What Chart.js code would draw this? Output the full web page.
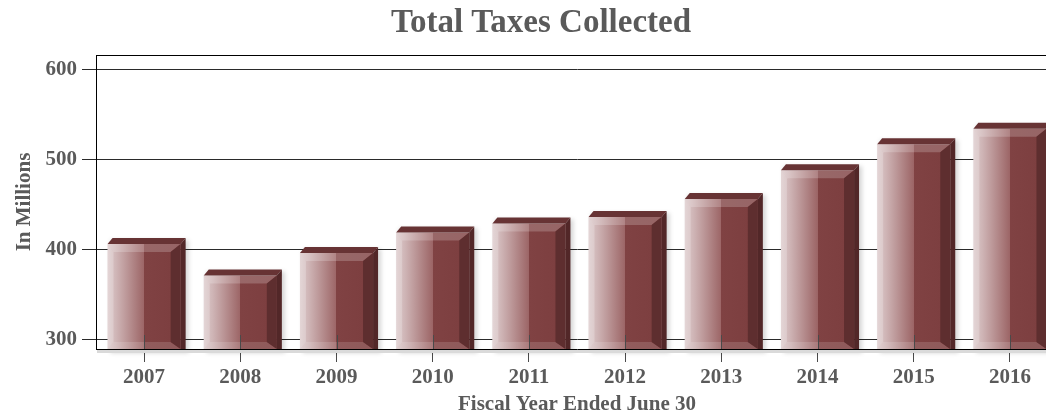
<!DOCTYPE html>
<html>
<head>
<meta charset="utf-8">
<title>Total Taxes Collected</title>
<style>
    html, body { margin: 0; padding: 0; background: #fff; overflow: hidden; }
    #wrap { width: 1070px; height: 417px; }
</style>
</head>
<body>
<div id="wrap">
    <canvas id="taxChart" width="1070" height="417"></canvas>
</div>

<script src="https://cdn.jsdelivr.net/npm/chart.js"></script>
<script>
    // data (in millions)
    const years = ['2007', '2008', '2009', '2010', '2011', '2012', '2013', '2014', '2015', '2016'];
    const taxes = [406, 371, 396, 419, 429, 436, 456, 488, 517, 534];
    const yTicks = [300, 400, 500, 600];
    const yRange = [289.5, 616];

    const chartTitle = 'Total Taxes Collected';
    const xTitle = 'Fiscal Year Ended June 30';
    const yTitle = 'In Millions';

    const FONT = "'Liberation Serif', 'Times New Roman', serif";
    const TEXT = '#5a5a5a';
    const BAR_PCT = 0.76;
    const DX = 5, DY = 6;   // 3d depth

    // front face of every bar: light pink on the left, flat red on the right
    function frontGradient(c) {
        const chart = c.chart;
        const xs = chart.scales.x;
        if (!chart.chartArea || !xs) return '#7f4142';
        const cx = xs.getPixelForValue(c.dataIndex);
        const w = xs.width / years.length * BAR_PCT;
        const g = chart.ctx.createLinearGradient(cx - w / 2, 0, cx + w / 2, 0);
        g.addColorStop(0, '#dccacb');
        g.addColorStop(0.12, '#cfb5b6');
        g.addColorStop(0.5, '#9c6566');
        g.addColorStop(0.5, '#804243');
        g.addColorStop(1, '#7c3e3f');
        return g;
    }

    function poly(ctx, pts, fill) {
        ctx.beginPath();
        ctx.moveTo(pts[0][0], pts[0][1]);
        for (let i = 1; i < pts.length; i++) ctx.lineTo(pts[i][0], pts[i][1]);
        ctx.closePath();
        ctx.fillStyle = fill;
        ctx.fill();
    }

    function barBox(el, area) {
        const { x, y, base, width } = el.getProps(['x', 'y', 'base', 'width'], true);
        return { L: x - width / 2, R: x + width / 2, T: y, B: Math.min(base, area.bottom) };
    }

    const bars3d = {
        id: 'bars3d',
        beforeDatasetsDraw(chart) {
            const ctx = chart.ctx;
            const area = chart.chartArea;
            const meta = chart.getDatasetMeta(0);
            ctx.save();
            // soft shadow behind the bars
            ctx.filter = 'blur(2px)';
            meta.data.forEach(el => {
                const { L, R, T, B } = barBox(el, area);
                ctx.fillStyle = 'rgba(0,0,0,0.16)';
                ctx.fillRect(L + 3, T - DY + 2, R - L + DX, B - T + DY + 2);
            });
            ctx.filter = 'none';
            // shadow under the bottom axis
            ctx.fillStyle = '#dadada';
            ctx.fillRect(area.left + 1, area.bottom + 1, area.right - area.left, 3);
            ctx.restore();
        },
        afterDatasetsDraw(chart) {
            const ctx = chart.ctx;
            const area = chart.chartArea;
            const meta = chart.getDatasetMeta(0);
            ctx.save();
            meta.data.forEach(el => {
                const { L, R, T, B } = barBox(el, area);
                // top and side faces
                poly(ctx, [[L, T], [L + DX, T - DY], [R + DX, T - DY], [R, T]], '#673334');
                poly(ctx, [[R, T], [R + DX, T - DY], [R + DX, B], [R, B]], '#522728');
                // bevels on the front
                const bt = 8, bl = 6, br = 10, bb = 7;
                poly(ctx, [[L, T], [R, T], [R - br, T + bt], [L + bl, T + bt]], 'rgba(255,255,255,0.2)');
                poly(ctx, [[L, T], [L + bl, T + bt], [L + bl, B - bb], [L, B]], 'rgba(255,255,255,0.22)');
                poly(ctx, [[L, B], [L + bl, B - bb], [R - br, B - bb], [R, B]], 'rgba(255,255,255,0.14)');
                poly(ctx, [[R, T], [R, B], [R - br, B - bb], [R - br, T + bt]], '#5e2e2f');
            });
            // x tick marks crossing the axis into the plot
            const xs = chart.scales.x;
            ctx.strokeStyle = '#4a4a4a';
            ctx.lineWidth = 1;
            years.forEach((_, i) => {
                const px = Math.round(xs.getPixelForValue(i)) + 0.5;
                ctx.beginPath();
                ctx.moveTo(px, area.bottom - 14);
                ctx.lineTo(px, area.bottom);
                ctx.stroke();
            });
            ctx.restore();
        },
        afterDraw(chart) {
            const ctx = chart.ctx;
            const area = chart.chartArea;
            ctx.save();
            // frame line on top of the plot
            ctx.strokeStyle = '#000';
            ctx.lineWidth = 1;
            ctx.beginPath();
            ctx.moveTo(area.left, Math.round(area.top) + 0.5);
            ctx.lineTo(chart.width, Math.round(area.top) + 0.5);
            ctx.stroke();
            // chart title
            ctx.fillStyle = TEXT;
            ctx.font = 'bold 33px ' + FONT;
            ctx.textAlign = 'center';
            ctx.textBaseline = 'alphabetic';
            ctx.fillText(chartTitle, 541, 32);
            ctx.restore();
        }
    };

    new Chart(document.getElementById('taxChart'), {
        type: 'bar',
        data: {
            labels: years,
            datasets: [{
                label: 'Total Taxes',
                data: taxes,
                backgroundColor: frontGradient,
                borderWidth: 0,
                categoryPercentage: 1,
                barPercentage: BAR_PCT
            }]
        },
        options: {
            responsive: false,
            animation: false,
            devicePixelRatio: 1,
            layout: { padding: { top: 55, right: 12, bottom: 0, left: 0 } },
            plugins: {
                legend: { display: false },
                tooltip: { enabled: false },
                title: { display: false }
            },
            scales: {
                x: {
                    afterFit: s => { s.height = 68; },
                    grid: { offset: false, drawOnChartArea: false, drawTicks: true, tickLength: 13, color: '#4a4a4a' },
                    border: { display: true, color: '#000', width: 1 },
                    ticks: {
                        color: TEXT, padding: 3, maxRotation: 0, autoSkip: false,
                        font: { family: FONT, size: 21, weight: 'bold' }
                    },
                    title: {
                        display: true, text: xTitle, color: TEXT,
                        font: { family: FONT, size: 21, weight: 'bold', lineHeight: 1 },
                        padding: { top: 0, bottom: 2 }
                    }
                },
                y: {
                    min: yRange[0],
                    max: yRange[1],
                    afterFit: s => { s.width = 96; },
                    afterBuildTicks: s => { s.ticks = yTicks.map(v => ({ value: v })); },
                    grid: { color: '#2a2a2a', lineWidth: 1, tickLength: 14 },
                    border: { display: true, color: '#000', width: 1 },
                    ticks: {
                        color: TEXT, padding: 5,
                        font: { family: FONT, size: 21, weight: 'bold' }
                    },
                    title: {
                        display: true, text: yTitle, color: TEXT,
                        font: { family: FONT, size: 21, weight: 'bold', lineHeight: 1 },
                        padding: { top: 14, bottom: 0 }
                    }
                }
            }
        },
        plugins: [bars3d]
    });
</script>
</body>
</html>
